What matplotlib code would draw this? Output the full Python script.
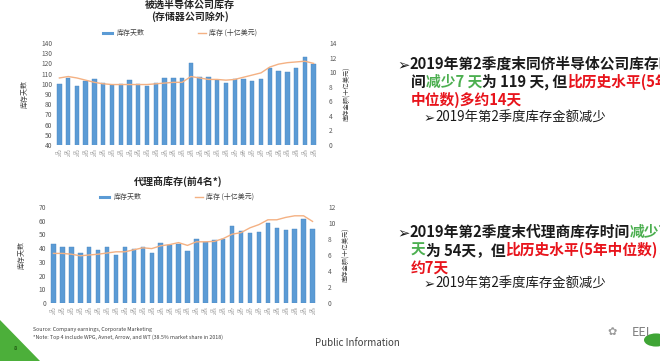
import matplotlib
matplotlib.use("Agg")
import matplotlib.pyplot as plt
from matplotlib.patches import Polygon, Circle
import numpy as np

plt.rcParams['font.family'] = ['Noto Sans CJK SC', 'DejaVu Sans']

# ---------------- data ----------------
quarters = [f"Q{q}\n{y}" for y in range(2012, 2020) for q in range(1, 5)][:30]

semi_days = [100, 106, 98, 103, 105, 101, 99, 100, 104, 100, 98, 101, 106, 106, 106,
             120, 107, 107, 104, 101, 105, 105, 103, 105, 115, 113, 112, 115, 126, 119]
semi_inv = [9.2, 9.4, 9.2, 8.9, 8.6, 8.4, 8.3, 8.3, 8.3, 8.3, 8.3, 8.4, 8.5, 8.6, 8.6,
            9.4, 9.2, 9.0, 9.0, 8.9, 9.0, 9.3, 9.6, 9.9, 10.7, 11.1, 11.3, 11.4, 11.5, 11.2]

dist_days = [43, 41, 41, 36.5, 41, 38.5, 41, 35, 40.5, 39.5, 41, 36.5, 44, 42, 43, 38,
             47, 44.5, 46, 47, 56.5, 52.5, 51, 51.5, 58, 55, 53, 54, 61, 54]
dist_inv = [6.2, 6.2, 6.1, 5.9, 6.0, 6.1, 6.25, 6.4, 6.4, 6.65, 6.9, 6.8, 7.15, 7.3, 7.55,
            7.2, 7.65, 7.65, 7.7, 8.05, 8.6, 8.8, 9.4, 9.8, 10.4, 10.4, 10.7, 10.9, 10.9, 10.2]

BAR = '#5b9bd5'
LINE = '#f4b183'
GRAY = '#595959'

W, H = 660, 361
fig = plt.figure(figsize=(W / 100, H / 100), dpi=100)
fig.patch.set_facecolor('white')


def px_axes(x0, y0, x1, y1):
    return fig.add_axes([x0 / W, 1 - y1 / H, (x1 - x0) / W, (y1 - y0) / H])


def ftxt(x, y, s, **kw):
    return fig.text(x / W, 1 - y / H, s, **kw)


def draw_chart(box, days, inv, ylim, yticks, r_max, r_ticks, title_lines, title_y, title_x, leg_y, lx):
    ax = px_axes(*box)
    x = np.arange(len(days))
    ax.bar(x, days, width=0.5, color=BAR, edgecolor='#4a86c0', linewidth=0.3, zorder=2)
    ax.set_xlim(-0.5, len(days) - 0.5)
    ax.set_ylim(*ylim)
    ax.set_yticks(yticks)
    ax.set_yticklabels([str(t) for t in yticks], fontsize=4.8, color=GRAY)
    ax.set_xticks(x)
    ax.set_xticklabels(quarters, rotation=90, fontsize=2.6, color='#7f7f7f', linespacing=0.9)
    ax.tick_params(length=0, pad=2)
    for s in ax.spines.values():
        s.set_visible(False)
    ax.set_ylabel('库存天数', fontsize=5, color='#404040', labelpad=9)
    ax2 = ax.twinx()
    ax2.plot(x, inv, color=LINE, linewidth=1.0, zorder=3)
    ax2.set_ylim(0, r_max)
    ax2.set_yticks(r_ticks)
    ax2.set_yticklabels([str(t) for t in r_ticks], fontsize=4.8, color=GRAY)
    ax2.tick_params(length=0, pad=8)
    for s in ax2.spines.values():
        s.set_visible(False)
    ax2.set_ylabel('库存金额(十亿美元)', fontsize=4.5, color='#404040', labelpad=5)
    for t, ty in zip(title_lines, title_y):
        ftxt(title_x, ty, t, fontsize=7.2, fontweight='bold', ha='center', va='center', color='#262626')
    # legend
    fig.add_artist(plt.Line2D([lx / W, (lx + 9) / W], [1 - leg_y / H] * 2, color=BAR, linewidth=2.2))
    ftxt(lx + 14, leg_y, '库存天数', fontsize=5, va='center', color='#404040')
    fig.add_artist(plt.Line2D([(lx + 95) / W, (lx + 103) / W], [1 - leg_y / H] * 2, color=LINE, linewidth=1))
    ftxt(lx + 106, leg_y, '库存 (十亿美元)', fontsize=5, va='center', color='#404040')
    return ax


draw_chart((55, 43, 318, 145), semi_days, semi_inv, (40, 140), list(range(40, 141, 10)),
           14, list(range(0, 15, 2)), ['被选半导体公司库存', '(存储器公司除外)'], [6, 17], 190, 33, 103)
draw_chart((49, 207, 317, 303), dist_days, dist_inv, (0, 70), list(range(0, 71, 10)),
           12, list(range(0, 13, 2)), ['代理商库存(前4名*)'], [181], 178, 197, 100)

# source notes
ftxt(33, 329, 'Source: Company earnings, Corporate Marketing', fontsize=3.8, va='center', color='#404040')
ftxt(33, 337, '*Note: Top 4 include WPG, Avnet, Arrow, and WT (38.5% market share in 2018)',
     fontsize=3.8, va='center', color='#404040')
ftxt(315, 343, 'Public Information', fontsize=7, va='center', color='#404040')

# green page triangle
fig.add_artist(Polygon([[0, 1 - 320 / H], [0, 0], [40 / W, 0]], closed=True,
                       transform=fig.transFigure, facecolor='#4caf3a', edgecolor='none'))
ftxt(15, 349, '8', fontsize=4, color='#1f5a12', ha='center', va='center', fontweight='bold')

# right-hand text blocks
GREEN = '#4caf50'
RED = '#e8141c'
BLK = '#1a1a1a'


def runs(x, y, parts, size=10.6, weight='bold'):
    t = None
    for s, c in parts:
        if t is None:
            t = ftxt(x, y, s, fontsize=size, fontweight=weight, color=c, va='center')
        else:
            t = plt.annotate(s, xycoords=t, xy=(1, 0), va='bottom', fontsize=size,
                             fontweight=weight, color=c, annotation_clip=False)
    return t


runs(397, 64, [('➢', BLK), ('2019年第2季度末同侪半导体公司库存时', BLK)])
runs(411, 82, [('间', BLK), ('减少7 天', GREEN), ('为 119 天, 但', BLK), ('比历史水平(5年', RED)])
runs(411, 100, [('中位数)多约14天', RED)])
runs(424, 118, [('➢', BLK), ('2019年第2季度库存金额减少', BLK)], size=9.6, weight='normal')

runs(397, 232, [('➢', BLK), ('2019年第2季度末代理商库存时间', BLK), ('减少7', GREEN)])
runs(411, 250, [('天', GREEN), ('为 54天，但', BLK), ('比历史水平(5年中位数)', RED), ('多', RED)])
runs(411, 268, [('约7天', RED)])
runs(424, 284, [('➢', BLK), ('2019年第2季度库存金额减少', BLK)], size=9.6, weight='normal')

# watermark bits
ftxt(612, 332, '✿', fontsize=8, color='#9a9a9a', ha='center', va='center', family=['DejaVu Sans'])
ftxt(632, 332, 'EEI', fontsize=9, color='#7f7f7f', va='center')
fig.add_artist(Circle((656 / W, 1 - 340 / H), 12 / W, transform=fig.transFigure,
                      facecolor='#3fa535', edgecolor='none'))

fig.savefig('out.png', dpi=100, facecolor='white')
